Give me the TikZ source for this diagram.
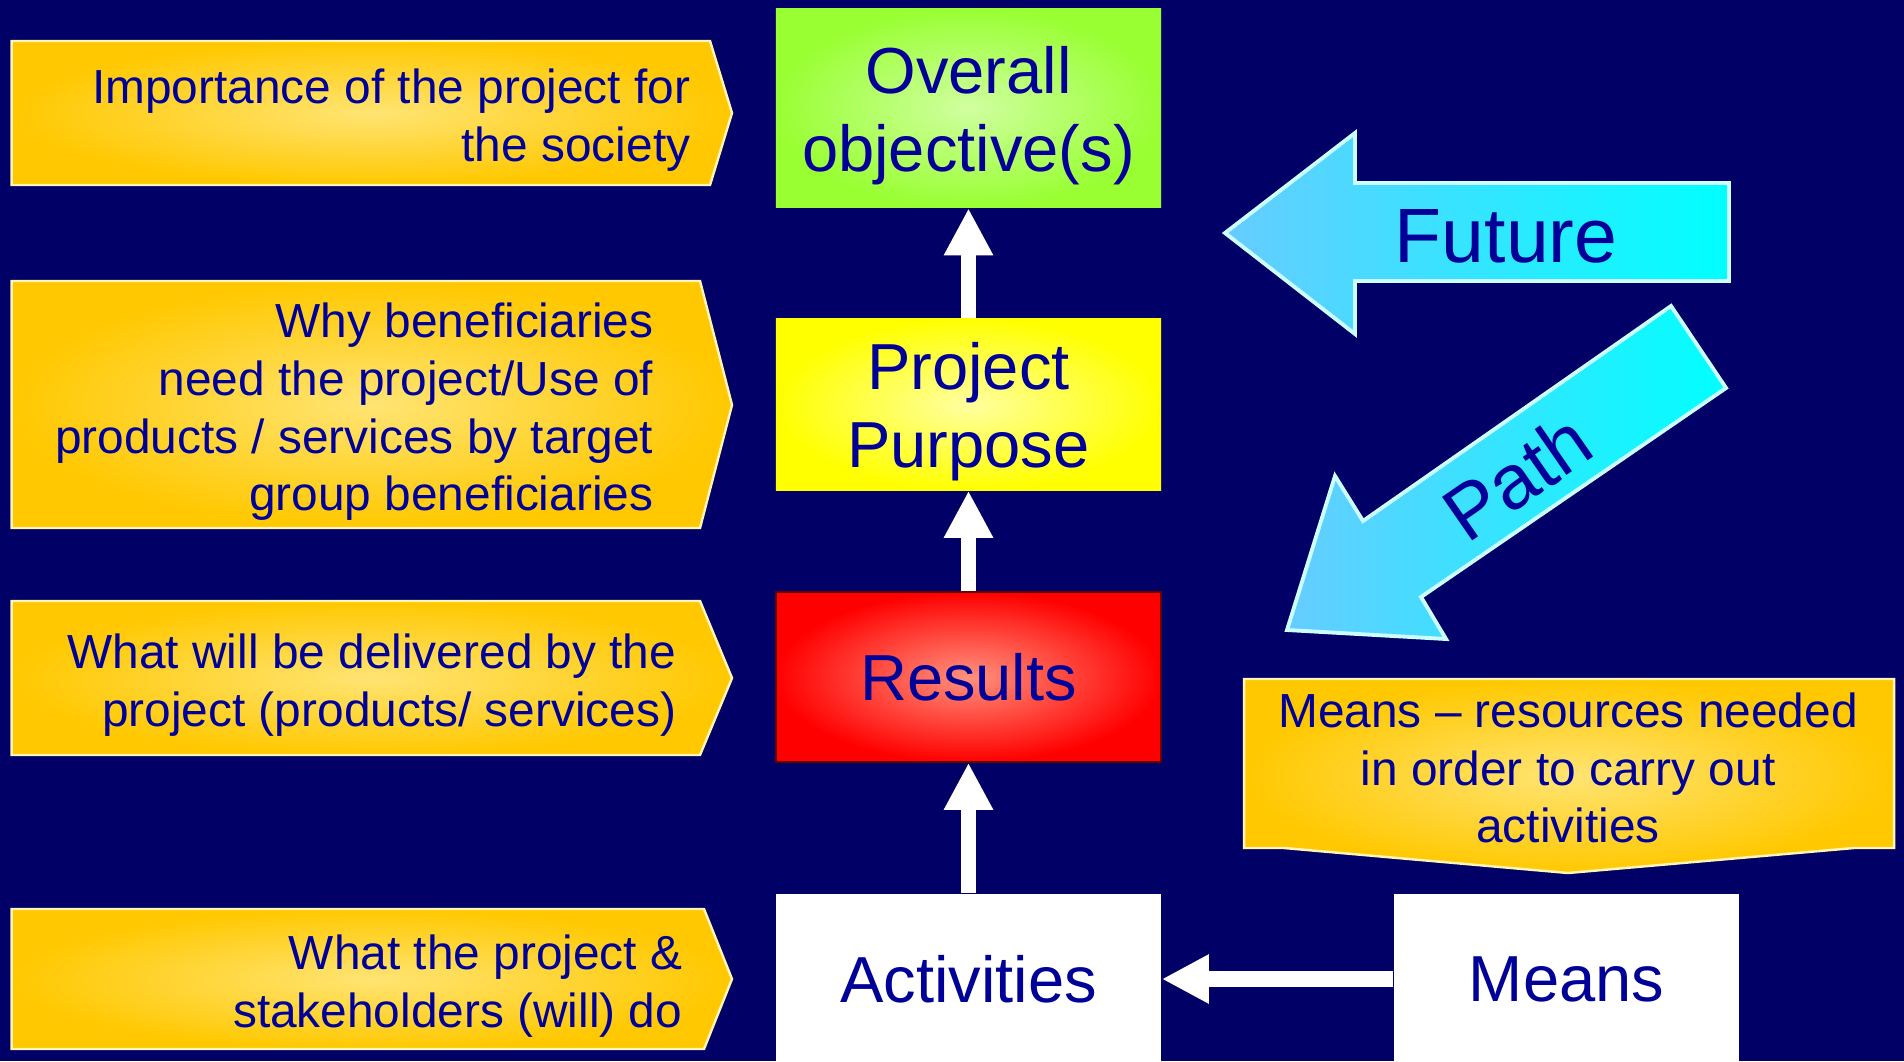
\documentclass[tikz,border=0pt]{standalone}
\usepackage{fontspec}
\setmainfont{Liberation Sans}
\usepackage{xcolor}
\usepackage{tikz}
\usetikzlibrary{arrows.meta,positioning,shadings}
\definecolor{navybg}{RGB}{0, 0, 102}
\definecolor{textblue}{RGB}{0, 0, 153}
\definecolor{goldouter}{RGB}{255, 200, 0}
\definecolor{goldinner}{RGB}{255, 228, 115}
\definecolor{goldline}{RGB}{255, 245, 180}
\definecolor{objouter}{RGB}{153, 255, 51}
\definecolor{objinner}{RGB}{208, 255, 160}
\definecolor{purpouter}{RGB}{255, 255, 0}
\definecolor{purpinner}{RGB}{255, 255, 160}
\definecolor{resouter}{RGB}{255, 0, 0}
\definecolor{resinner}{RGB}{255, 145, 125}
\definecolor{skyblue}{RGB}{102, 204, 255}
\definecolor{cyanfill}{RGB}{0, 255, 255}
\definecolor{cyanline}{RGB}{204, 255, 255}

\begin{document}
\begin{tikzpicture}[
    x=0.01cm, y=-0.01cm,
    box/.style={rectangle, minimum width=3.85cm, align=center, inner sep=0pt, text=textblue, font=\fontsize{18.5}{22.2}\selectfont},
    twoline/.style={text height=39.9pt, text depth=3.9pt},
    note/.style={align=right, inner sep=0pt, text=textblue, font=\fontsize{13.6}{16.4}\selectfont},
    callout/.style={shade, draw=goldline, line width=0.7pt, inner color=goldinner, outer color=goldouter},
    bigarrow/.style={shade, draw=cyanline, line width=1.1pt, left color=skyblue, right color=cyanfill},
    arrowtext/.style={inner sep=0pt, text=textblue, font=\fontsize{21.9}{26}\selectfont},
    arrow/.style={-{Triangle[length=13.4pt, width=13.1pt]}, white, line width=4.5pt}
]

\useasboundingbox (0,0) rectangle (1904,1061);
\fill[navybg] (0,0) rectangle (1904,1061);

% Callouts on the left
\path[callout] (11.6,41) -- (710,41) -- (732,113) -- (710,185) -- (11.6,185) -- cycle;
\path[callout] (11.6,281) -- (700,281) -- (732,405) -- (700,528) -- (11.6,528) -- cycle;
\path[callout] (11.6,601) -- (700,601) -- (732,678) -- (700,755) -- (11.6,755) -- cycle;
\path[callout] (11.6,909) -- (704,909) -- (732,979) -- (704,1049) -- (11.6,1049) -- cycle;
\path[callout] (1244,679) -- (1894,679) -- (1894,848) -- (1854,848) -- (1568,873) -- (1284,848) -- (1244,848) -- cycle;

\node[note, anchor=east] (society) at (691,120) {Importance of the project for\\the society};
\node[note, anchor=east] (why) at (654,412) {Why beneficiaries\\need the project/Use of\\products / services by target\\group beneficiaries};
\node[note, anchor=east] (delivered) at (677,685) {What will be delivered by the\\project (products/ services)};
\node[note, anchor=east] (todo) at (683,986) {What the project \&\\stakeholders (will) do};
\node[note, align=center] (meansnote) at (1568,768) {Means – resources needed\\in order to carry out\\activities};

% Logframe column
\node[box, twoline, minimum height=1.99cm, shade, inner color=objinner, outer color=objouter] (obj) at (968.5,108) {Overall\\objective(s)};
\node[box, twoline, minimum height=1.71cm, shade, inner color=purpinner, outer color=purpouter] (purpose) at (968.5,404.5) {Project\\Purpose};
\node[box, minimum height=1.70cm, shade, inner color=resinner, outer color=resouter, draw=red!40!black, line width=0.4pt] (results) at (968.5,677) {Results};
\node[box, minimum height=1.70cm, fill=white] (activities) at (968.5,979) {Activities};
\node[box, minimum width=3.45cm, minimum height=1.70cm, fill=white] (means) at (1566.5,979) {Means};

\draw[arrow] (purpose) -- (obj);
\draw[arrow] (results) -- (purpose);
\draw[arrow] (activities) -- (results);
\draw[arrow] (means) -- (activities);

% Future and Path
\path[bigarrow] (1225,233) -- (1355,133) -- (1355,183) -- (1729,183) -- (1729,281) -- (1355,281) -- (1355,334) -- cycle;
\path[bigarrow] (1671,306) -- (1726,388) -- (1421,597) -- (1446,639) -- (1287,630) -- (1335,476) -- (1363,521) -- cycle;
\node[arrowtext] (future) at (1506,236) {Future};
\node[arrowtext, rotate=34.7] (path) at (1517,477) {Path};

\end{tikzpicture}
\end{document}
